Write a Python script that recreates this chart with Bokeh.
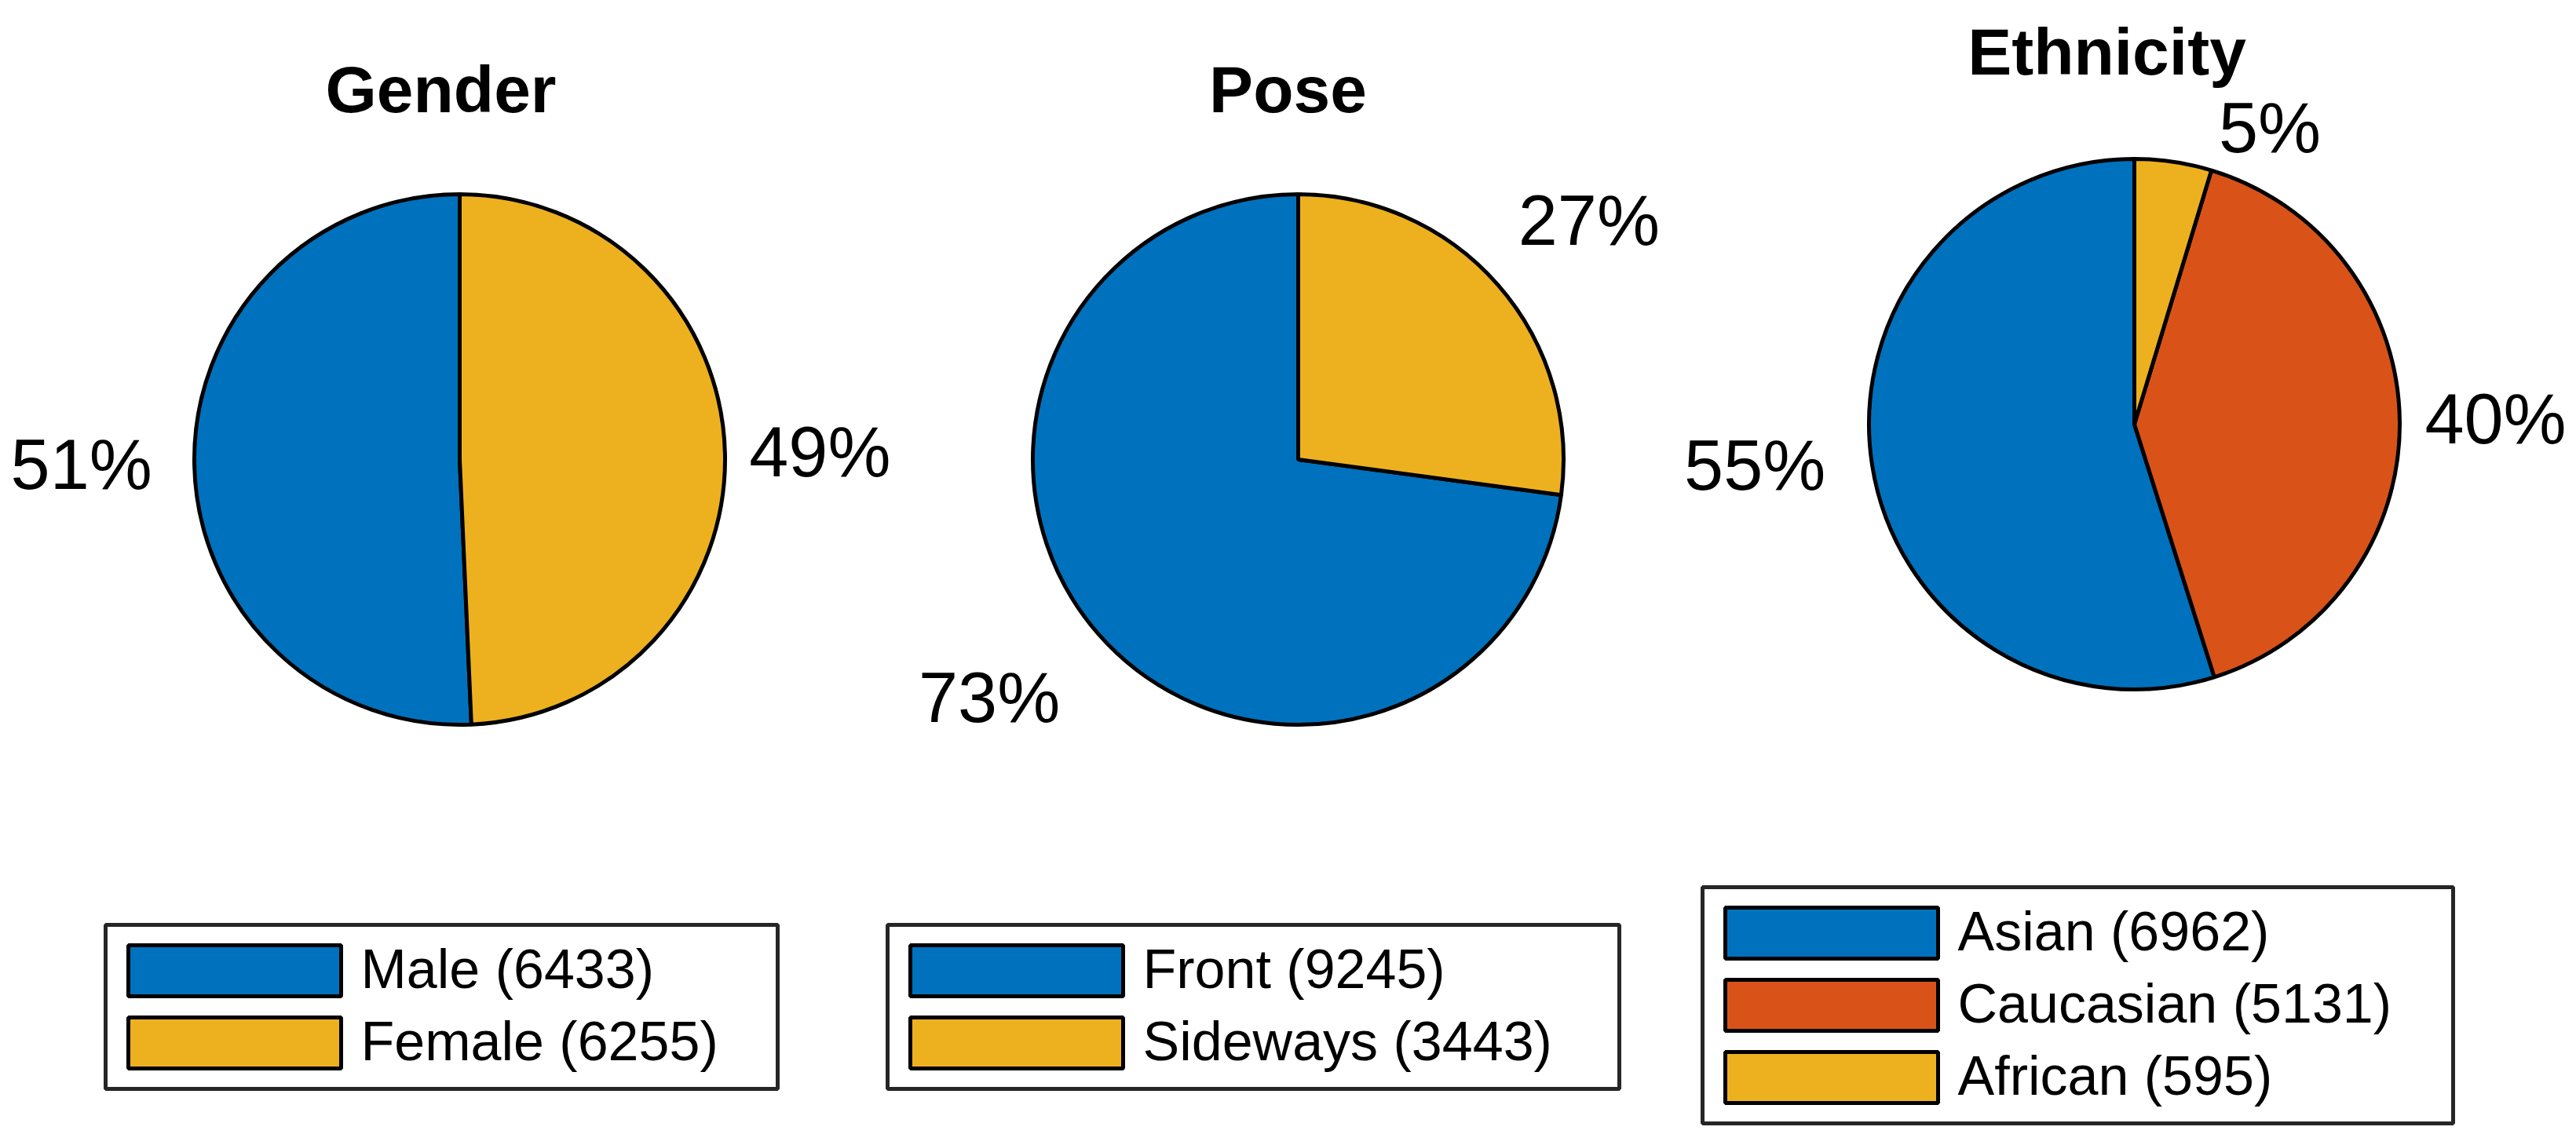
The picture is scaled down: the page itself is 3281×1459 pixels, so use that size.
import numpy as np
from bokeh.plotting import figure
from bokeh.models import Range1d
from bokeh.core.properties import value
from bokeh.embed import file_html
from bokeh.resources import INLINE

# ---------------- data ----------------
titles = ["Gender", "Pose", "Ethnicity"]

gender_labels = ["Male", "Female"]
gender_counts = [6433, 6255]

pose_labels = ["Front", "Sideways"]
pose_counts = [9245, 3443]

ethnicity_labels = ["Asian", "Caucasian", "African"]
ethnicity_counts = [6962, 5131, 595]

BLUE, ORANGE, YELLOW = "#0072BD", "#D95319", "#EDB120"
gender_colors = [BLUE, YELLOW]
pose_colors = [BLUE, YELLOW]
ethnicity_colors = [BLUE, ORANGE, YELLOW]

# ---------------- layout (screen pixels of the page) ----------------
W, H = 3281, 1459
R = 338
FONT = "Liberation Sans"
TXT_FIX = 0.37   # empirical baseline correction (fraction of font size)


def X(px):
    return px


def Y(py):
    return H - py


def TY(py, size):
    # baseline position corrected for the renderer's text placement
    return Y(py - TXT_FIX * size)


panels = [
    dict(labels=gender_labels, counts=gender_counts, colors=gender_colors, title=titles[0],
         center=(585, 585), title_xy=(561, 145), nudges=[(-2, -3), (-21, 2)],
         legend_box=(134, 1178, 990)),
    dict(labels=pose_labels, counts=pose_counts, colors=pose_colors, title=titles[1],
         center=(1653, 585), title_xy=(1640, 145), nudges=[(-32, -11), (9, 13)],
         legend_box=(1130, 1178, 2062)),
    dict(labels=ethnicity_labels, counts=ethnicity_counts, colors=ethnicity_colors, title=titles[2],
         center=(2718, 540), title_xy=(2683, 97), nudges=[(-9, -19), (-20, -2), (102, 99)],
         legend_box=(2168, 1130, 3124)),
]

p = figure(width=W, height=H, output_backend="svg", toolbar_location=None,
           x_range=Range1d(0, W), y_range=Range1d(0, H),
           x_axis_type=None, y_axis_type=None, min_border=0)
p.grid.visible = False
p.outline_line_color = None
p.background_fill_color = "white"
p.border_fill_color = "white"

ROW = 92
SW_H = 69
SW_W = 275

for pan in panels:
    counts = np.array(pan["counts"], dtype=float)
    frac = counts / counts.sum()
    starts = np.pi / 2 + 2 * np.pi * np.concatenate([[0], np.cumsum(frac)[:-1]])
    ends = starts + 2 * np.pi * frac
    mids = (starts + ends) / 2
    cx, cy = pan["center"]

    # pie slices
    p.wedge(x=[X(cx)] * len(counts), y=[Y(cy)] * len(counts), radius=R,
            start_angle=list(starts), end_angle=list(ends), direction="anticlock",
            fill_color=pan["colors"], line_color="black", line_width=5)

    # percentage labels
    lx, ly, lt = [], [], []
    for m, f, (nx, ny) in zip(mids, frac, pan["nudges"]):
        sx = cx + 1.42 * R * np.cos(m) + nx
        sy = cy - 1.42 * R * np.sin(m) + ny
        lx.append(X(sx))
        ly.append(TY(sy + 32, 90))
        lt.append(f"{int(round(100 * f))}%")
    p.text(x=lx, y=ly, text=lt, text_font=value(FONT), text_font_size="90px",
           text_align="center", text_baseline="alphabetic", text_color="black")

    # title
    tx, ty = pan["title_xy"]
    p.text(x=[X(tx)], y=[TY(ty, 84)], text=[pan["title"]], text_font=value(FONT),
           text_font_size="84px", text_font_style="bold", text_align="center",
           text_baseline="alphabetic", text_color="black")

    # legend
    bl, bt, br = pan["legend_box"]
    n = len(counts)
    bb = bt + 24 + (n - 1) * ROW + SW_H + 24
    p.quad(left=[X(bl)], right=[X(br)], top=[Y(bt)], bottom=[Y(bb)],
           fill_color="white", line_color="#262626", line_width=5)
    sl = bl + 27
    tops = [bt + 24 + i * ROW for i in range(n)]
    p.quad(left=[X(sl + 2)] * n, right=[X(sl + SW_W - 2)] * n,
           top=[Y(t + 2) for t in tops], bottom=[Y(t + SW_H - 2) for t in tops],
           fill_color=pan["colors"], line_color="black", line_width=5)
    p.text(x=[X(sl + SW_W + 23)] * n, y=[TY(t + 58, 70) for t in tops],
           text=[f"{lab} ({int(c)})" for lab, c in zip(pan["labels"], pan["counts"])],
           text_font=value(FONT), text_font_size="70px", text_align="left",
           text_baseline="alphabetic", text_color="black")

open("out.html", "w").write(file_html(p, INLINE))
